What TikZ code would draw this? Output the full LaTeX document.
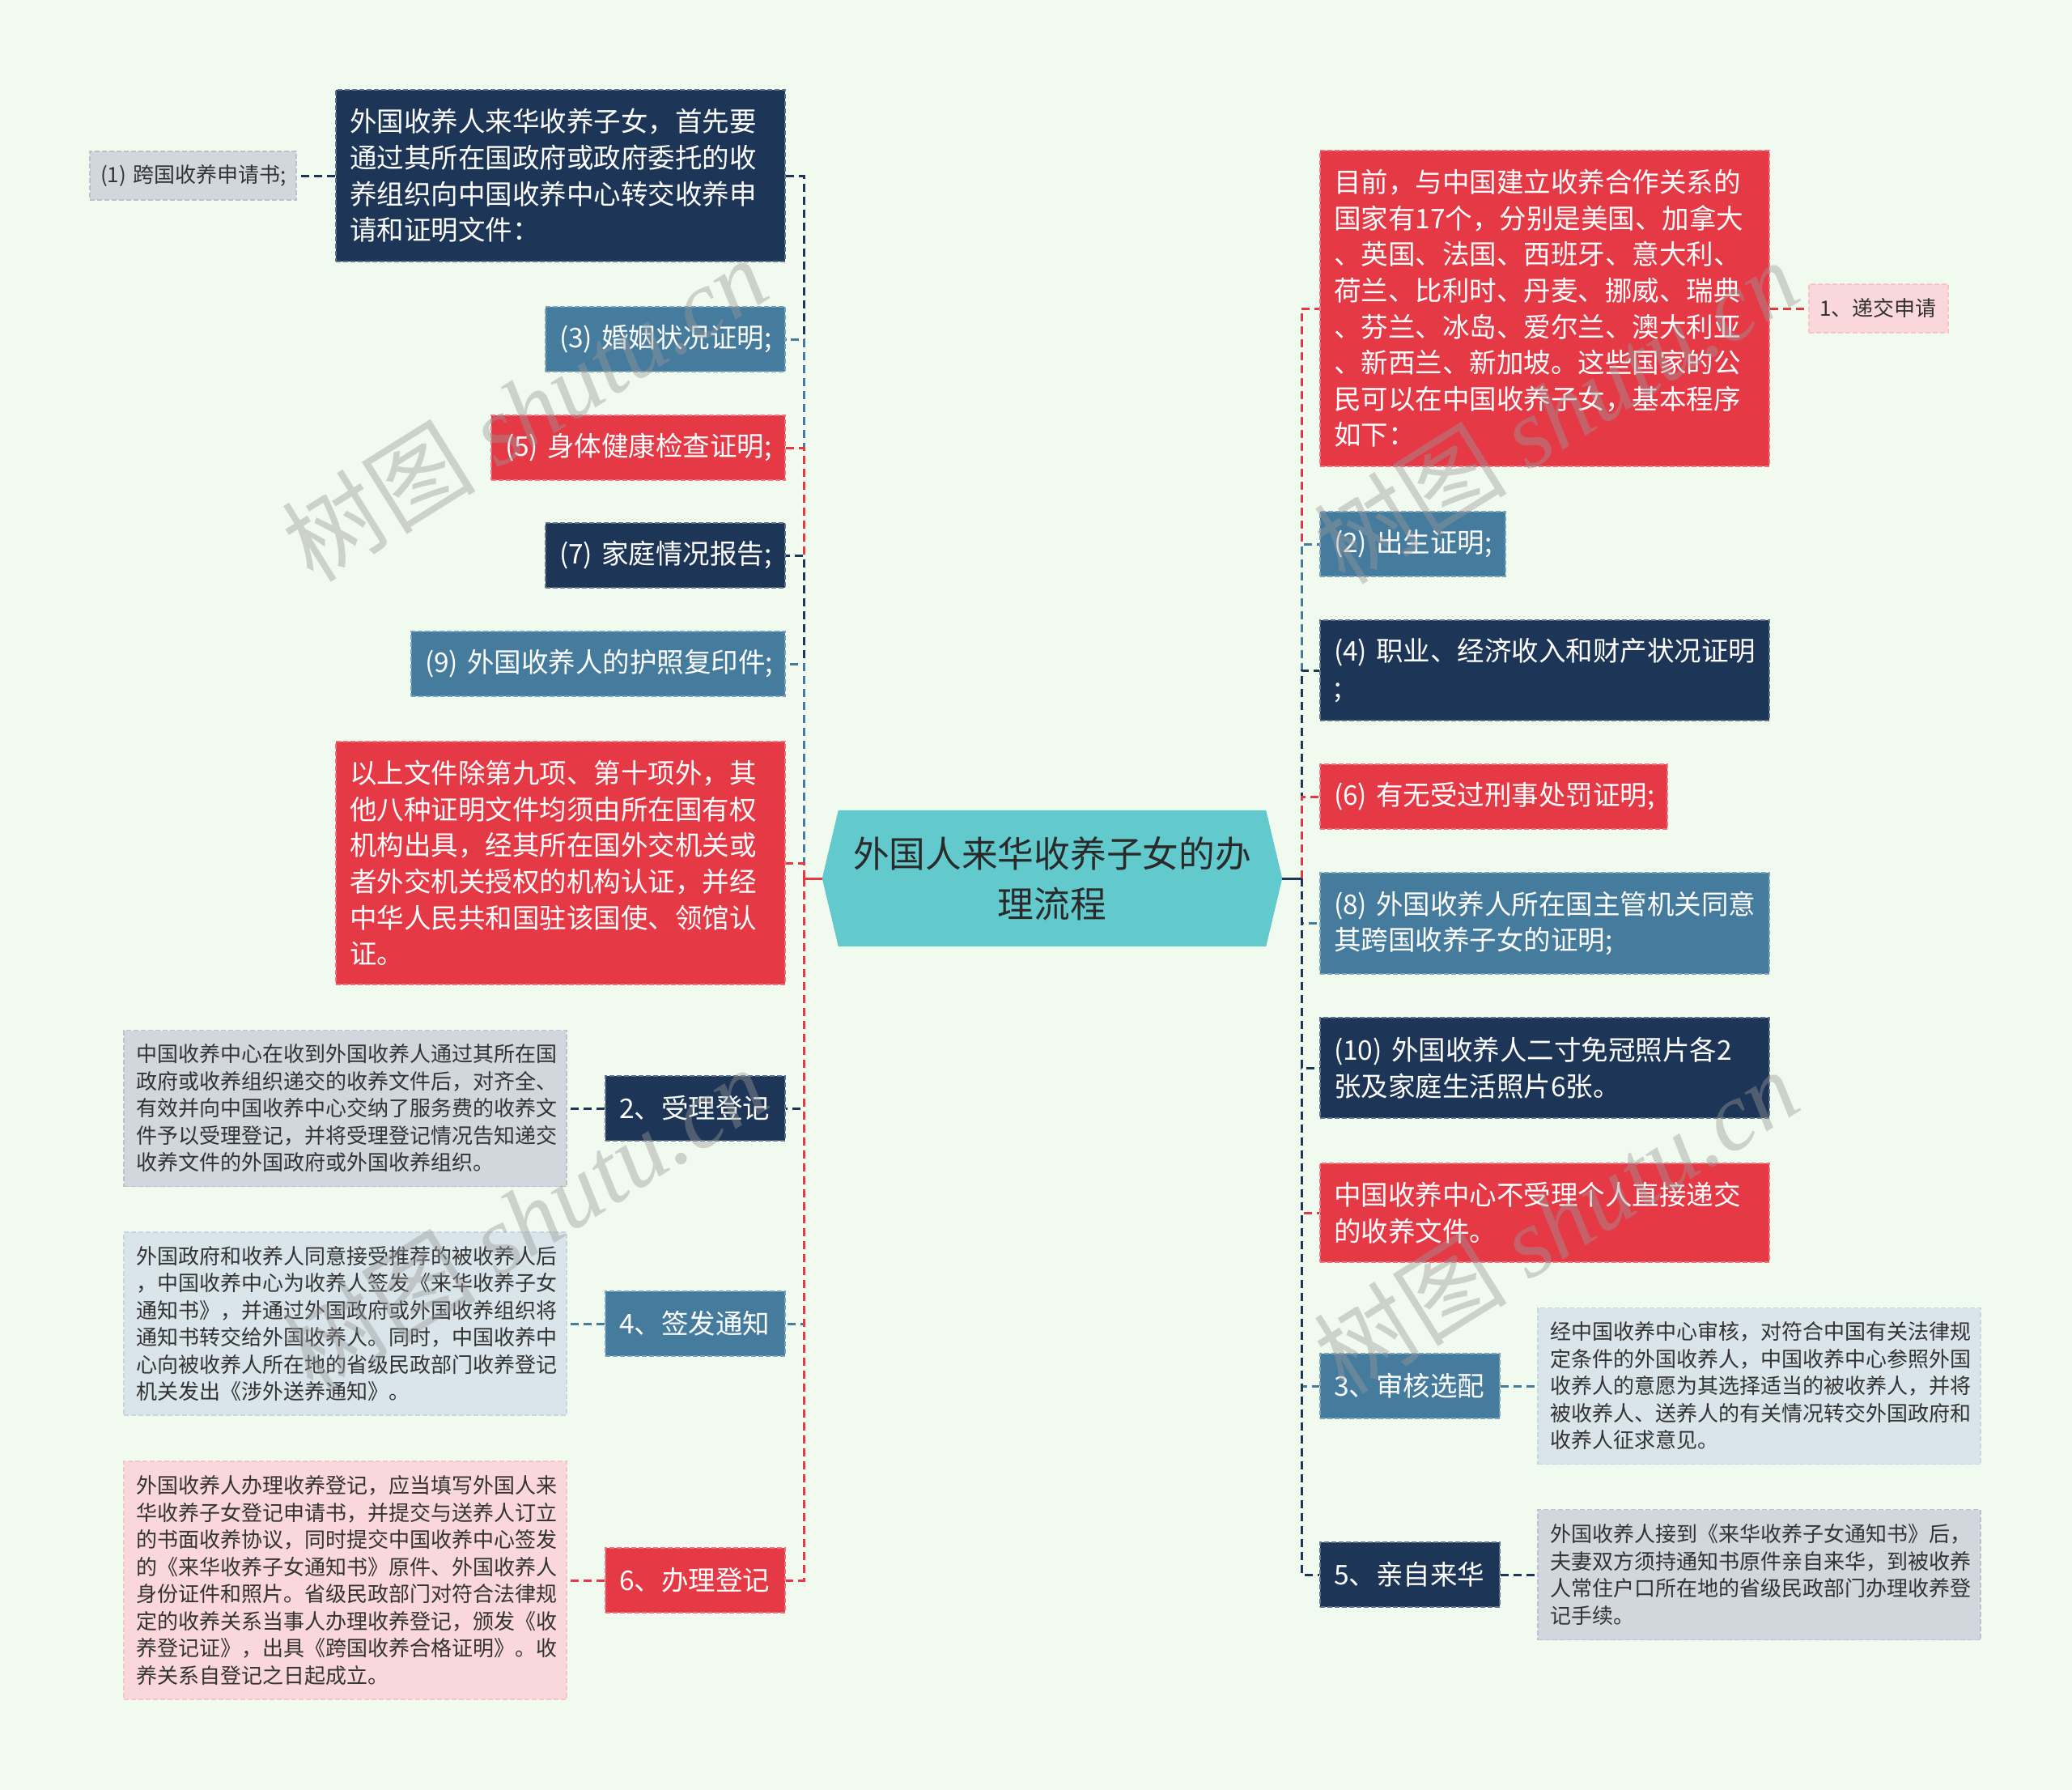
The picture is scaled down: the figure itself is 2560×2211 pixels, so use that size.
\documentclass[tikz,border=0pt]{standalone}
\usepackage{fontspec}
\setmainfont{Noto Sans CJK SC}
\newfontfamily\wmlatin{Liberation Serif}
\usetikzlibrary{calc}
\definecolor{bgc}{HTML}{F1FAEE}
\definecolor{navy}{HTML}{1D3557}
\definecolor{steel}{HTML}{457B9D}
\definecolor{redc}{HTML}{E63946}
\definecolor{tealc}{HTML}{62C9CD}
\definecolor{txtd}{HTML}{333333}
\definecolor{txtc}{HTML}{2A2A2A}
\newcommand\fbig{\fontsize{33.5pt}{44.6pt}\selectfont}
\newcommand\fsmall{\fontsize{26pt}{33.5pt}\selectfont}
\newcommand\fcent{\fontsize{44.7pt}{62pt}\selectfont}
\newcommand\fwm{\fontsize{120pt}{125pt}\selectfont}
\pgfdeclarelayer{bg}
\pgfsetlayers{bg,main}
\begin{document}
\begin{tikzpicture}[x=1pt,y=-1pt,
  conn/.style={line width=3pt, dash pattern=on 10pt off 6pt},
  rootseg/.style={line width=3pt},
  box/.style={rectangle, inner xsep=17pt, inner ysep=0pt, align=left, font=\fbig, text=white, dash pattern=on 6pt off 3pt, line width=1.5pt},
  navyb/.style={box, fill=navy, draw=navy!70!white},
  steelb/.style={box, fill=steel, draw=steel!70!white},
  redb/.style={box, fill=redc, draw=redc!70!white},
  desc/.style={rectangle, inner xsep=15pt, inner ysep=0pt, align=left, font=\fsmall, text=txtd, text width=517pt, dash pattern=on 6pt off 3pt, line width=1.5pt},
  navyd/.style={desc, fill=navy!20, draw=navy!30},
  steeld/.style={desc, fill=steel!20, draw=steel!30},
  redd/.style={desc, fill=redc!20, draw=redc!30},
  tag/.style={rectangle, inner xsep=13pt, inner ysep=0pt, align=left, font=\fsmall, text=txtd, minimum height=60pt, dash pattern=on 6pt off 3pt, line width=1.5pt},
  rootn/.style={rectangle, inner sep=0pt, minimum width=568pt, minimum height=168pt, align=center, font=\fcent, text=txtc},
  wm/.style={font=\fwm, text=black!40, opacity=0.42, rotate=32, inner sep=0pt}
]
\begin{pgfonlayer}{bg}
\fill[bgc] (0,0) rectangle (2560,2211);
\end{pgfonlayer}
\useasboundingbox (0,0) rectangle (2560,2211);

% root
\node[rootn] (root) at (1300,1085) {外国人来华收养子女的办\\理流程};
\begin{pgfonlayer}{bg}
\fill[tealc] (root.west) -- ($(root.north west)+(20pt,0)$) -- ($(root.north east)+(-20pt,0)$) -- (root.east) -- ($(root.south east)+(-20pt,0)$) -- ($(root.south west)+(20pt,0)$) -- cycle;
\end{pgfonlayer}
\coordinate (busL) at (993,1085);
\coordinate (busR) at (1608,1085);

% left side
\node[navyb, text width=521pt, minimum height=212pt] (A) at (692.5,217) {外国收养人来华收养子女，首先要\\通过其所在国政府或政府委托的收\\养组织向中国收养中心转交收养申\\请和证明文件：};
\node[tag, fill=navy!20, draw=navy!30, text width=229pt] (A1) at (238.5,217) {(1)~跨国收养申请书;};
\node[steelb, text width=262pt, minimum height=80pt] (L3) at (822,419) {(3)~婚姻状况证明;};
\node[redb, text width=329pt, minimum height=80pt] (L5) at (788.5,553) {(5)~身体健康检查证明;};
\node[navyb, text width=262pt, minimum height=80pt] (L7) at (822,686) {(7)~家庭情况报告;};
\node[steelb, text width=428pt, minimum height=80pt] (L9) at (739,820) {(9)~外国收养人的护照复印件;};
\node[redb, text width=521pt, minimum height=300pt] (LR) at (692.5,1066) {以上文件除第九项、第十项外，其\\他八种证明文件均须由所在国有权\\机构出具，经其所在国外交机关或\\者外交机关授权的机构认证，并经\\中华人民共和国驻该国使、领馆认\\证。};
\node[navyb, text width=188pt, minimum height=80pt] (L2) at (859,1369) {2、受理登记};
\node[navyd, minimum height=193pt] (L2d) at (426.5,1369) {中国收养中心在收到外国收养人通过其所在国\\政府或收养组织递交的收养文件后，对齐全、\\有效并向中国收养中心交纳了服务费的收养文\\件予以受理登记，并将受理登记情况告知递交\\收养文件的外国政府或外国收养组织。};
\node[steelb, text width=188pt, minimum height=80pt] (L4) at (859,1635) {4、签发通知};
\node[steeld, minimum height=226pt] (L4d) at (426.5,1635) {外国政府和收养人同意接受推荐的被收养人后\\，中国收养中心为收养人签发《来华收养子女\\通知书》，并通过外国政府或外国收养组织将\\通知书转交给外国收养人。同时，中国收养中\\心向被收养人所在地的省级民政部门收养登记\\机关发出《涉外送养通知》。};
\node[redb, text width=188pt, minimum height=80pt] (L6) at (859,1952) {6、办理登记};
\node[redd, minimum height=294pt] (L6d) at (426.5,1952) {外国收养人办理收养登记，应当填写外国人来\\华收养子女登记申请书，并提交与送养人订立\\的书面收养协议，同时提交中国收养中心签发\\的《来华收养子女通知书》原件、外国收养人\\身份证件和照片。省级民政部门对符合法律规\\定的收养关系当事人办理收养登记，颁发《收\\养登记证》，出具《跨国收养合格证明》。收\\养关系自登记之日起成立。};

% right side
\node[redb, text width=521pt, minimum height=390pt] (R1) at (1908.5,381) {目前，与中国建立收养合作关系的\\国家有17个，分别是美国、加拿大\\、英国、法国、西班牙、意大利、\\荷兰、比利时、丹麦、挪威、瑞典\\、芬兰、冰岛、爱尔兰、澳大利亚\\、新西兰、新加坡。这些国家的公\\民可以在中国收养子女，基本程序\\如下：};
\node[tag, fill=redc!20, draw=redc!30, text width=146pt] (R1a) at (2321,381) {1、递交申请};
\node[steelb, text width=195pt, minimum height=80pt] (R2) at (1745.5,672) {(2)~出生证明;};
\node[navyb, text width=521pt, minimum height=124pt] (R4) at (1908.5,828) {(4)~职业、经济收入和财产状况证明\\;};
\node[redb, text width=395pt, minimum height=80pt] (R6) at (1845.5,984) {(6)~有无受过刑事处罚证明;};
\node[steelb, text width=521pt, minimum height=125pt] (R8) at (1908.5,1140.5) {(8)~外国收养人所在国主管机关同意\\其跨国收养子女的证明;};
\node[navyb, text width=521pt, minimum height=124pt] (R10) at (1908.5,1319) {(10)~外国收养人二寸免冠照片各2\\张及家庭生活照片6张。};
\node[redb, text width=521pt, minimum height=122pt] (RC) at (1908.5,1498) {中国收养中心不受理个人直接递交\\的收养文件。};
\node[steelb, text width=188pt, minimum height=80pt] (R3) at (1742,1712) {3、审核选配};
\node[steeld, minimum height=193pt] (R3d) at (2173.5,1712) {经中国收养中心审核，对符合中国有关法律规\\定条件的外国收养人，中国收养中心参照外国\\收养人的意愿为其选择适当的被收养人，并将\\被收养人、送养人的有关情况转交外国政府和\\收养人征求意见。};
\node[navyb, text width=188pt, minimum height=80pt] (R5) at (1742,1945) {5、亲自来华};
\node[navyd, minimum height=161pt] (R5d) at (2173.5,1945) {外国收养人接到《来华收养子女通知书》后，\\夫妻双方须持通知书原件亲自来华，到被收养\\人常住户口所在地的省级民政部门办理收养登\\记手续。};

% connectors left
\draw[conn, navy] (busL) |- (A.east);
\draw[conn, steel] (busL) |- (L3.east);
\draw[conn, redc] (busL) |- (L5.east);
\draw[conn, navy] (busL) |- (L7.east);
\draw[conn, steel] (busL) |- (L9.east);
\draw[conn, redc] (busL) |- (LR.east);
\draw[conn, navy] (busL) |- (L2.east);
\draw[conn, steel] (busL) |- (L4.east);
\draw[conn, redc] (busL) |- (L6.east);
\draw[rootseg, redc] (root.west) -- (busL);
% connectors right
\draw[conn, redc] (busR) |- (R1.west);
\draw[conn, steel] (busR) |- (R2.west);
\draw[conn, navy] (busR) |- (R4.west);
\draw[conn, redc] (busR) |- (R6.west);
\draw[conn, steel] (busR) |- (R8.west);
\draw[conn, navy] (busR) |- (R10.west);
\draw[conn, redc] (busR) |- (RC.west);
\draw[conn, steel] (busR) |- (R3.west);
\draw[conn, navy] (busR) |- (R5.west);
\draw[rootseg, navy] (root.east) -- (busR);
% sub connectors
\draw[conn, navy] (A.west) -- (A1.east);
\draw[conn, navy] (L2.west) -- (L2d.east);
\draw[conn, steel] (L4.west) -- (L4d.east);
\draw[conn, redc] (L6.west) -- (L6d.east);
\draw[conn, redc] (R1.east) -- (R1a.west);
\draw[conn, steel] (R3.east) -- (R3d.west);
\draw[conn, navy] (R5.east) -- (R5d.west);

% watermarks
\node[wm] (wm1) at (648,505) {树图 {\wmlatin\itshape shutu.cn}};
\node[wm] (wm2) at (1922,508) {树图 {\wmlatin\itshape shutu.cn}};
\node[wm] (wm3) at (648,1505) {树图 {\wmlatin\itshape shutu.cn}};
\node[wm] (wm4) at (1922,1508) {树图 {\wmlatin\itshape shutu.cn}};
\end{tikzpicture}
\end{document}
